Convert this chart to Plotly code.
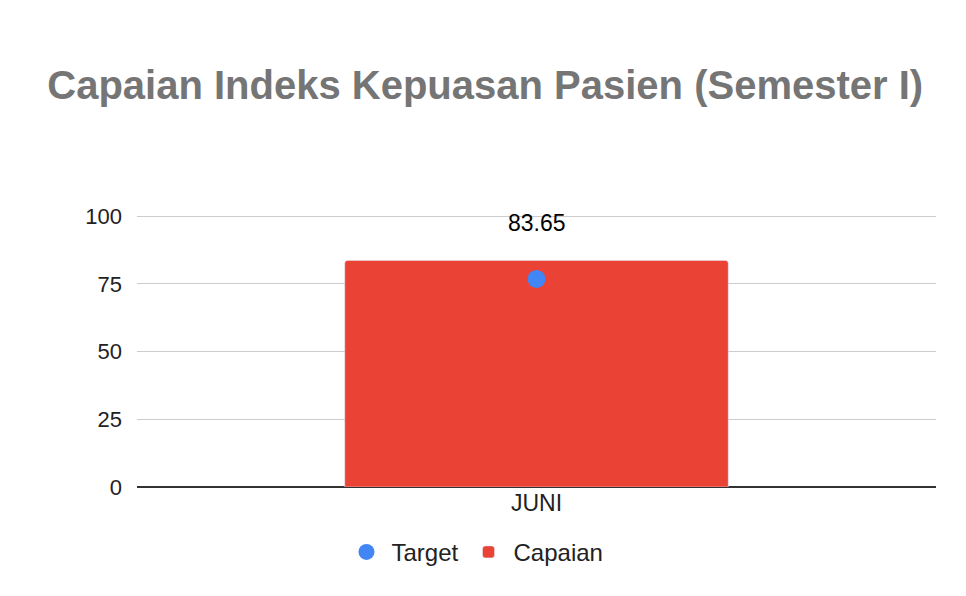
import plotly.graph_objects as go

bulan = ["JUNI"]
target = [76.8]
capaian = [83.65]

fig = go.Figure()
fig.add_trace(go.Scatter(x=bulan, y=target, name="Target", mode="markers",
                         marker=dict(color="#4285F4", size=18)))
fig.add_trace(go.Bar(x=bulan, y=capaian, name="Capaian", marker_color="#EA4335"))

# label nilai di atas bar
fig.add_annotation(x=bulan[0], y=capaian[0], text=f"{capaian[0]:.2f}", showarrow=False,
                   yshift=37, font=dict(size=23, color="#000000"))

fig.update_layout(
    width=966, height=596,
    title=dict(text="<b>Capaian Indeks Kepuasan Pasien (Semester I)</b>", x=0.494, xanchor="center",
               y=0.871, yanchor="middle", font=dict(size=40, color="#757575", family="Arial")),
    font=dict(family="Arial", size=23, color="#222222"),
    plot_bgcolor="white", paper_bgcolor="white",
    margin=dict(l=129, r=38, t=207, b=117),
    bargap=0.52,
    barcornerradius=3,
    showlegend=True,
    legend=dict(orientation="h", x=0.423, xanchor="center", y=-0.24, yanchor="middle",
                font=dict(size=24, color="#222222"), itemwidth=40, traceorder="normal"),
    xaxis=dict(showgrid=False, ticks="", tickfont=dict(size=23, color="#222222")),
    yaxis=dict(range=[0, 100.4], tickvals=[0, 25, 50, 75, 100], gridcolor="#cccccc", gridwidth=1,
               zeroline=True, zerolinecolor="#333333", zerolinewidth=2,
               ticks="", ticklabelstandoff=14, tickfont=dict(size=22, color="#222222")),
)

fig.write_html("out.html")
